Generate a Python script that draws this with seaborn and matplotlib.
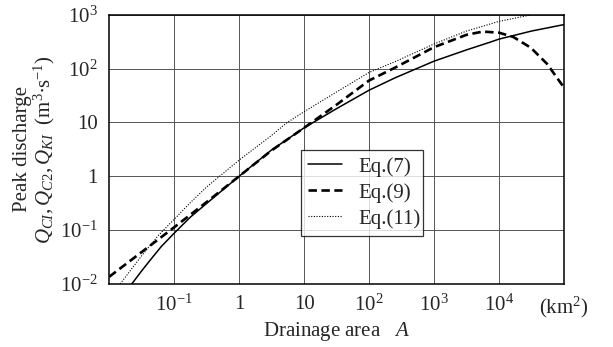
import numpy as np
import pandas as pd
import matplotlib
matplotlib.use("Agg")
import matplotlib.pyplot as plt
import seaborn as sns

# ---- data (log10 of drainage area, log10 of peak discharge) ----
eq7_logA = [-1.65, -1.5, -1.375, -1.2, -1.0, -0.75, -0.475, 0.0, 0.49, 1.0, 1.49, 2.0, 2.4, 3.0, 3.5, 3.88, 4.0, 4.5, 5.0]
eq7_logQ = [-2.0, -1.76, -1.57, -1.31, -1.06, -0.76, -0.48, 0.0, 0.48, 0.9, 1.25, 1.60, 1.83, 2.14, 2.35, 2.50, 2.55, 2.70, 2.82]

eq9_logA = [-2.0, -1.5, -1.0, -0.5, 0.0, 0.5, 1.0, 1.5, 2.0, 2.4, 3.0, 3.5, 3.75, 4.0, 4.22, 4.49, 4.74, 5.0]
eq9_logQ = [-1.87, -1.41, -0.95, -0.48, 0.0, 0.48, 0.9, 1.33, 1.78, 2.02, 2.40, 2.63, 2.69, 2.67, 2.59, 2.39, 2.09, 1.65]

eq11_logA = [-1.83, -1.5, -1.25, -1.0, -0.75, -0.5, 0.0, 0.49, 0.74, 1.0, 1.49, 2.0, 2.4, 3.0, 3.5, 4.0, 4.49]
eq11_logQ = [-2.0, -1.48, -1.11, -0.8, -0.49, -0.2, 0.3, 0.75, 1.0, 1.2, 1.56, 1.93, 2.13, 2.46, 2.70, 2.88, 3.0]

series_labels = ["Eq.(7)", "Eq.(9)", "Eq.(11)"]
x_ticks = [1e-1, 1, 10, 1e2, 1e3, 1e4, 1e5]
x_ticklabels = ["$10^{-1}$", "1", "10", "$10^{2}$", "$10^{3}$", "$10^{4}$", "(km$^{2}$)"]
y_ticks = [1e-2, 1e-1, 1, 10, 1e2, 1e3]
y_ticklabels = ["$10^{-2}$", "$10^{-1}$", "1", "10", "$10^{2}$", "$10^{3}$"]

sns.set_style("white")
plt.rcParams["font.family"] = ["Liberation Serif", "DejaVu Serif"]
plt.rcParams["mathtext.fontset"] = "custom"
plt.rcParams["mathtext.rm"] = "Liberation Serif"
plt.rcParams["mathtext.it"] = "Liberation Serif:italic"

fig = plt.figure(figsize=(6.13, 3.47), dpi=100)
ax = fig.add_axes([0.178, 0.182, 0.742, 0.775])

frames = []
for lbl, la, lq in [(series_labels[0], eq7_logA, eq7_logQ),
                    (series_labels[1], eq9_logA, eq9_logQ),
                    (series_labels[2], eq11_logA, eq11_logQ)]:
    frames.append(pd.DataFrame({"A": 10 ** np.array(la), "Q": 10 ** np.array(lq), "eq": lbl}))

styles = {
    series_labels[0]: dict(linestyle="-", linewidth=1.1),
    series_labels[1]: dict(linestyle=(0, (3.2, 1.7)), linewidth=1.9),
    series_labels[2]: dict(linestyle=(0, (1, 1.4)), linewidth=0.8),
}
for df in frames:
    lbl = df["eq"].iloc[0]
    sns.lineplot(data=df, x="A", y="Q", ax=ax, color="black", label=lbl, **styles[lbl])

ax.set_xscale("log")
ax.set_yscale("log")
ax.set_xlim(1e-2, 1e5)
ax.set_ylim(1e-2, 1e3)

ax.set_xticks(x_ticks)
ax.set_xticklabels(x_ticklabels, fontsize=15)
ax.set_yticks(y_ticks)
ax.set_yticklabels(y_ticklabels, fontsize=15)
ax.minorticks_off()
ax.tick_params(axis="both", length=0, pad=8)

ax.grid(True, which="major", color="#555555", linewidth=0.7)
for s in ax.spines.values():
    s.set_color("black")
    s.set_linewidth(1.1)

ax.set_xlabel("Drainage area   $\\mathit{A}$", fontsize=15, labelpad=0)
ax.set_ylabel("Peak discharge\n$Q_{\\mathit{CI}}, Q_{\\mathit{C2}}, Q_{\\mathit{KI}}$  (m$^{3}$$\\bullet$s$^{-1}$)",
              fontsize=15, linespacing=1.0, labelpad=2)

leg = ax.legend(loc="lower left", bbox_to_anchor=(0.422, 0.178, 0.268, 0.31), mode="expand",
                borderaxespad=0, fontsize=15, frameon=True, fancybox=False, handlelength=1.6,
                borderpad=0.35, labelspacing=0.3, handletextpad=0.8)
leg.get_frame().set_edgecolor("black")
leg.get_frame().set_linewidth(0.9)

fig.savefig("out.png", dpi=100)
